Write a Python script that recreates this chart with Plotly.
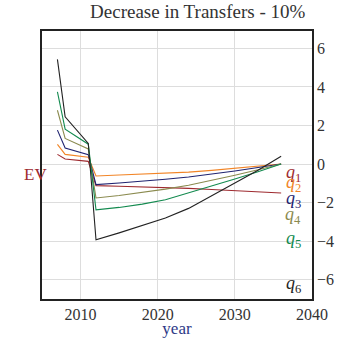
import plotly.graph_objects as go

# Equivalent-variation paths by quantile group
years = [2007, 2008, 2011, 2012, 2015, 2018, 2021, 2024, 2027, 2030, 2033, 2036]

ev_q1 = [0.50, 0.26, 0.14, -1.12, -1.15, -1.18, -1.22, -1.26, -1.32, -1.38, -1.44, -1.50]
ev_q2 = [1.02, 0.50, 0.35, -0.62, -0.57, -0.52, -0.47, -0.42, -0.33, -0.22, -0.11, 0.00]
ev_q3 = [1.76, 0.83, 0.48, -1.07, -0.98, -0.89, -0.79, -0.67, -0.52, -0.36, -0.18, 0.00]
ev_q4 = [2.79, 1.33, 0.78, -1.76, -1.63, -1.48, -1.30, -1.10, -0.85, -0.58, -0.30, 0.00]
ev_q5 = [3.74, 1.81, 1.03, -2.38, -2.25, -2.08, -1.85, -1.50, -1.15, -0.78, -0.40, 0.00]
ev_q6 = [5.43, 2.45, 1.07, -3.93, -3.57, -3.19, -2.80, -2.30, -1.64, -0.98, -0.32, 0.40]

series_names = ["q1", "q2", "q3", "q4", "q5", "q6"]
series_values = [ev_q1, ev_q2, ev_q3, ev_q4, ev_q5, ev_q6]
series_colors = ["#9e2a2f", "#f28527", "#1f2370", "#8a8a4e", "#138a4f", "#222222"]

# label anchor (x in years, y in EV units) for each quantile tag
label_x = 2037.6
label_y = [-0.5, -1.0, -1.85, -2.65, -3.9, -6.25]

font_family = "Liberation Serif"

fig = go.Figure()
for name, vals, col in zip(series_names, series_values, series_colors):
    fig.add_trace(go.Scatter(
        x=years, y=vals, mode="lines", name=name,
        line=dict(color=col, width=1.1), showlegend=False,
    ))

for name, ly, col in zip(series_names, label_y, series_colors):
    fig.add_annotation(
        x=label_x, y=ly, xref="x", yref="y",
        text="<i>q</i><sub>" + name[1:] + "</sub>",
        showarrow=False, font=dict(family=font_family, size=18, color=col),
    )

fig.add_annotation(
    x=-0.075, y=0.465, xref="paper", yref="paper",
    text="EV", showarrow=False,
    font=dict(family=font_family, size=17, color="#9e2a2f"),
)

fig.update_layout(
    width=338, height=338,
    margin=dict(l=42, r=26, t=31, b=39),
    paper_bgcolor="white", plot_bgcolor="white",
    font=dict(family=font_family, size=16, color="#333333"),
    title=dict(text="Decrease in Transfers - 10%", x=0.585, xanchor="center",
               y=0.985, yanchor="top", font=dict(family=font_family, size=19, color="#333333")),
    xaxis=dict(
        range=[2005, 2040], tickvals=[2010, 2020, 2030, 2040],
        showgrid=True, gridcolor="#dddddd", gridwidth=1,
        showline=True, linecolor="#222222", linewidth=1.5, mirror=True,
        ticks="", zeroline=False, automargin=False,
        title=dict(text="year", font=dict(family=font_family, size=17, color="#2e3a87"), standoff=4),
    ),
    yaxis=dict(
        range=[-7.0, 6.9], tickvals=[-6, -4, -2, 0, 2, 4, 6], side="right",
        showgrid=True, gridcolor="#dddddd", gridwidth=1,
        showline=True, linecolor="#222222", linewidth=1.5, mirror=True,
        ticks="", zeroline=False, automargin=False,
    ),
)

fig.write_html("out.html")
